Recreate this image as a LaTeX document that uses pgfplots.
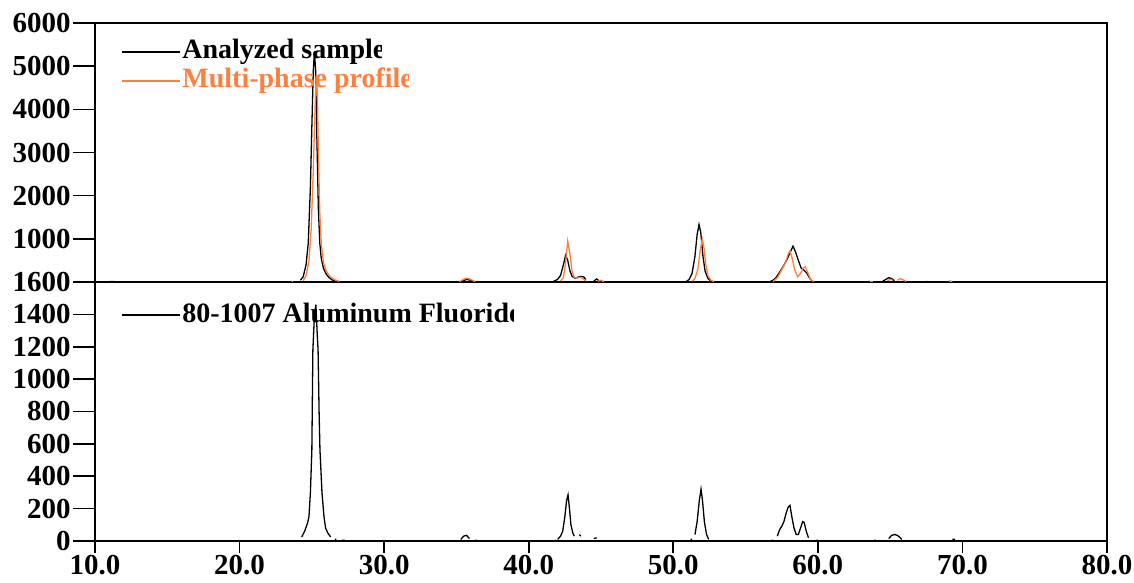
\documentclass[border=0pt]{standalone}
\usepackage{fontspec}
\setmainfont{Liberation Serif}
\usepackage{pgfplots}
\pgfplotsset{compat=1.18}
\definecolor{profile}{RGB}{255,127,63}

\pgfplotstableread{
x y
11.0 12
11.3 12
nan nan
19.0 8
19.1 8
nan nan
20.2 8
20.3 8
nan nan
22.6 8
22.7 8
nan nan
24.2 40
24.4 120
24.6 400
24.75 900
24.9 2200
25.0 3600
25.1 4900
25.18 5350
25.26 4900
25.35 3300
25.45 1700
25.55 900
25.65 550
25.8 320
26.0 180
26.2 100
26.4 50
26.6 20
26.8 5
nan nan
27.8 8
27.9 8
nan nan
34.0 8
34.1 8
nan nan
35.4 20
35.7 60
36.0 40
36.2 10
nan nan
41.7 10
42.0 60
42.2 150
42.4 400
42.55 620
42.7 500
42.85 260
43.0 130
43.2 90
43.4 110
43.6 130
43.8 120
43.95 60
nan nan
44.5 20
44.7 70
44.9 20
nan nan
50.9 10
51.1 60
51.3 200
51.5 600
51.65 1100
51.78 1330
51.9 1150
52.05 600
52.2 250
52.4 80
52.6 20
52.8 5
nan nan
56.7 10
56.9 40
57.1 100
57.3 200
57.5 300
57.7 420
57.9 550
58.1 700
58.28 830
58.45 700
58.65 500
58.85 320
59.05 270
59.25 200
59.45 80
59.65 10
nan nan
63.5 10
63.6 10
nan nan
64.5 20
64.7 60
64.9 100
65.1 80
65.3 30
nan nan
67.5 10
67.6 10
nan nan
69.1 15
69.3 10
}\sample

\pgfplotstableread{
x y
23.6 8
23.7 8
nan nan
24.4 30
24.6 150
24.8 500
24.95 1200
25.1 2600
25.2 3800
25.3 4800
25.38 4400
25.45 3000
25.55 1600
25.65 900
25.8 450
26.0 250
26.2 150
26.4 90
26.6 50
26.9 15
nan nan
35.2 10
35.5 60
35.7 90
35.9 70
36.1 40
36.3 10
nan nan
42.2 20
42.4 100
42.55 450
42.7 950
42.85 650
43.0 250
43.15 110
43.35 90
43.55 110
43.75 80
43.95 20
nan nan
44.8 20
45.0 40
45.2 10
nan nan
51.3 20
51.5 80
51.7 300
51.85 700
52.0 1000
52.12 800
52.25 400
52.4 150
52.6 40
52.8 10
nan nan
56.9 10
57.2 100
57.5 280
57.75 450
57.95 650
58.07 720
58.2 580
58.4 280
58.6 120
58.8 200
59.0 330
59.12 350
59.3 220
59.5 60
59.7 10
nan nan
63.6 10
63.8 10
nan nan
64.8 30
65.0 60
65.2 40
nan nan
65.5 40
65.7 80
65.9 50
66.1 15
nan nan
69.1 20
69.3 10
}\profile

\pgfplotstableread{
x y
24.3 25
24.5 60
24.7 110
24.8 150
24.9 300
25.0 564
25.07 1180
25.18 1400
25.28 1460
25.36 1300
25.43 1180
25.5 800
25.56 564
25.7 300
25.84 150
25.95 80
26.1 50
26.3 25
nan nan
26.6 10
26.7 10
nan nan
27.1 5
27.3 5
nan nan
35.3 10
35.5 30
35.7 35
35.9 15
nan nan
36.3 5
36.4 5
nan nan
41.8 5
41.9 5
nan nan
42.0 10
42.2 30
42.35 60
42.5 150
42.62 250
42.72 285
42.82 200
42.92 100
43.05 50
43.15 30
nan nan
43.5 40
43.6 30
nan nan
44.5 15
44.7 20
nan nan
51.2 10
51.3 10
nan nan
51.5 40
51.65 120
51.8 250
51.92 320
52.02 250
52.15 120
52.3 40
52.45 10
nan nan
56.8 5
56.9 5
nan nan
57.2 30
57.35 70
57.5 90
57.65 120
57.8 170
57.95 210
58.07 220
58.2 150
58.35 80
58.5 40
58.65 40
58.8 80
58.95 120
59.05 115
59.2 60
59.35 20
nan nan
59.9 5
60.0 5
nan nan
63.9 5
64.0 5
nan nan
64.9 15
65.1 35
65.3 40
65.5 35
65.7 20
65.8 10
nan nan
69.3 10
69.5 10
}\reference

\begin{document}
\begin{tikzpicture}[font=\fontsize{14.5}{16}\selectfont\bfseries]
\useasboundingbox (-47.5pt,-21pt) rectangle (519.5pt,270.5pt);
\pgfplotsset{
  panel/.style={
    scale only axis, width=506pt, height=129.5pt,
    xmin=10, xmax=80,
    axis line style={line width=0.8pt},
    tick style={line width=0.8pt, black},
    tick align=outside, ytick pos=left, xtick pos=bottom,
    major tick length=11pt, minor tick num=0,
    unbounded coords=jump,
    /pgf/number format/assume math mode=true,
    /pgf/number format/1000 sep={},
    scaled ticks=false,
    ticklabel style={font=\fontsize{14.5}{16}\selectfont\bfseries},
    yticklabel style={inner sep=1pt},
    every axis plot/.append style={line width=0.65pt},
  },
}
\begin{axis}[panel, name=bot, at={(0pt,0pt)}, anchor=south west,
  ymin=0, ymax=1600, ytick={0,200,...,1600},
  xtick={10,20,...,80},
  xticklabel={\pgfmathprintnumber[fixed,fixed zerofill,precision=1]{\tick}},
  xticklabel style={inner sep=1pt, yshift=5pt},
  xtick style={/pgfplots/major tick length=6pt},
]
\addplot[black] table[x=x, y=y] {\reference};
\end{axis}
\begin{axis}[panel, at={(bot.north west)}, anchor=south west,
  ymin=0, ymax=6000, ytick={1000,2000,...,6000},
  xtick=\empty,
]
\addplot[black] table[x=x, y=y] {\sample};
\addplot[profile] table[x=x, y=y] {\profile};
\end{axis}

% legend entries, clipped the way the original cuts them off
\begin{scope}[font=\fontsize{14}{16}\selectfont\bfseries]
\draw[black, line width=0.6pt] (13.5pt,244.5pt) -- (42.5pt,244.5pt);
\begin{scope}
  \clip (43pt,232pt) rectangle (143pt,258pt);
  \node[anchor=base west, inner sep=0pt] at (43.5pt,241pt) {Analyzed sample};
\end{scope}
\draw[profile, line width=0.6pt] (13.5pt,230pt) -- (42.5pt,230pt);
\begin{scope}
  \clip (43pt,218pt) rectangle (156.5pt,240pt);
  \node[anchor=base west, inner sep=0pt, text=profile] at (43.5pt,226.5pt) {Multi-phase profile};
\end{scope}
\draw[black, line width=0.6pt] (13.5pt,113pt) -- (42.5pt,113pt);
\begin{scope}
  \clip (43pt,101pt) rectangle (209pt,125pt);
  \node[anchor=base west, inner sep=0pt] at (43.5pt,109pt) {80-1007 Aluminum Fluoride};
\end{scope}
\end{scope}
\end{tikzpicture}
\end{document}
